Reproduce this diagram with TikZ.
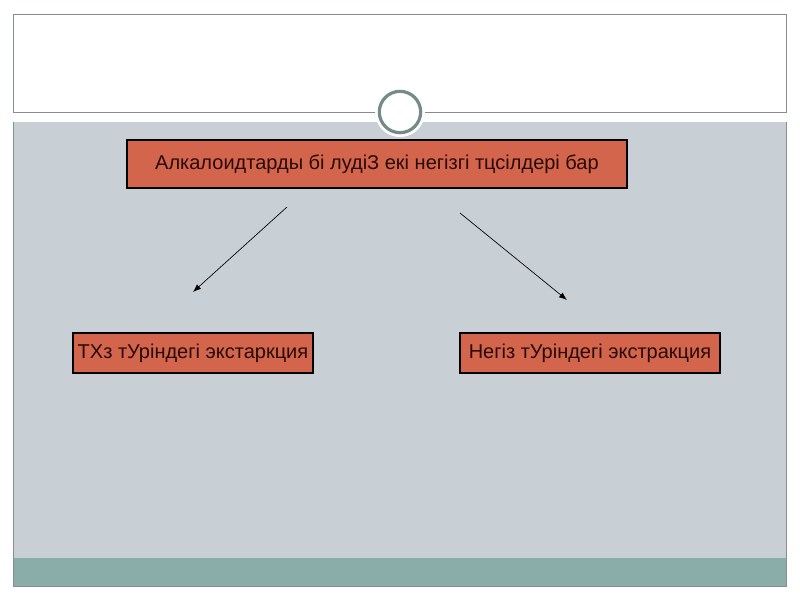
\documentclass[tikz,border=0pt]{standalone}
\usepackage{fontspec}
\setmainfont{Liberation Sans}
\usetikzlibrary{positioning,arrows.meta}
\definecolor{slidegrey}{RGB}{200,208,214}
\definecolor{bandteal}{RGB}{139,173,170}
\definecolor{framegrey}{RGB}{135,140,140}
\definecolor{boxred}{RGB}{212,101,77}
\definecolor{ringgrey}{RGB}{118,138,138}
\definecolor{boxtext}{RGB}{40,10,5}
\begin{document}
\begin{tikzpicture}[x=0.75pt,y=-0.75pt,
    kbox/.style={draw=black, fill=boxred, line width=0.8pt, inner sep=0pt,
      text=boxtext, font=\fontsize{15}{17}\selectfont},
    karrow/.style={-{Latex[length=6pt,width=4.5pt]}, line width=0.5pt, black}]
    \useasboundingbox (0,0) rectangle (800,600);
    % === Fondo della slide ===
    \fill[white] (0,0) rectangle (800,600);
    \fill[slidegrey] (13,122) rectangle (786,558);
    \fill[bandteal] (13,558) rectangle (786,586);
    \draw[framegrey, line width=0.7pt] (13,14) rectangle (786,112);
    \draw[framegrey, line width=0.7pt] (13,122) -- (13,586) -- (786,586) -- (786,122);
    % Anello centrale
    \fill[white] (400,112) circle (25);
    \node[circle, draw=ringgrey, line width=2.4pt, fill=white, minimum size=31pt,
      inner sep=0pt] (ring) at (400,112) {};
    % === Riquadri ===
    \node[kbox, minimum width=375pt, minimum height=36pt] (main) at (377,164)
      {Алкалоидтарды бі лудіЗ екі негізгі тцсілдері бар};
    \node[kbox, minimum width=180pt, minimum height=30pt] (acid) at (193,353)
      {ТХз тУріндегі экстаркция};
    \node[kbox, minimum width=195pt, minimum height=30pt] (base) at (590,353)
      {Негіз тУріндегі экстракция};
    % Frecce (estremi liberi)
    \coordinate (l1) at (287,207);
    \coordinate (l2) at (193,292);
    \coordinate (r1) at (460,213);
    \coordinate (r2) at (567,300);
    \draw[karrow] (l1) -- (l2);
    \draw[karrow] (r1) -- (r2);
\end{tikzpicture}
\end{document}
